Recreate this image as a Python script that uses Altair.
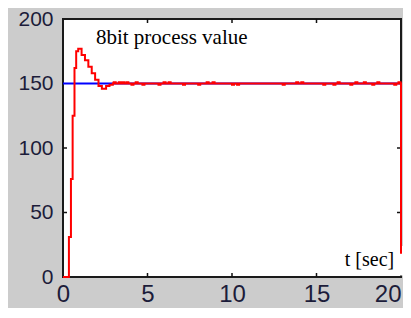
import altair as alt
import pandas as pd

# axis tick labels
x_ticks = [0, 5, 10, 15, 20]
y_ticks = [0, 50, 100, 150, 200]
inner_x = [5, 10, 15]
inner_y = [50, 100]

# red process value: transient (step samples)
trans_t = [0, 0.35, 0.47, 0.57, 0.68, 0.78, 0.9, 1.1, 1.3, 1.5, 1.7, 1.9, 2.1, 2.3, 2.55, 2.75, 2.95]
trans_v = [0, 31, 76, 125, 162, 175, 177, 172, 168, 163, 158, 153, 148, 146, 148, 149, 150]
# small 1-LSB deviations in steady state
blip_t = [3.0, 3.3, 3.5, 3.75, 4.05, 4.3, 4.7, 5.65, 5.95, 6.25, 7.1, 8.0, 8.5, 8.85, 10.0, 10.3,
          13.0, 13.8, 14.1, 15.4, 16.0, 16.25, 17.0, 17.3, 17.8, 18.3, 18.6, 19.6, 19.85]
blip_v = [151, 151, 151, 151, 149, 151, 149, 149, 151, 151, 149, 149, 151, 151, 149, 149,
          149, 151, 151, 149, 149, 151, 149, 151, 151, 149, 151, 149, 151]
end_t = [19.97, 20]
end_v = [150, 18]

# blue setpoint
setpoint_t = [0, 20]
setpoint_v = [150, 150]

rows = list(zip(trans_t, trans_v))
for t, v in zip(blip_t, blip_v):
    rows += [(t, v), (round(t + 0.12, 2), 150)]
rows += list(zip(end_t, end_v))
red = pd.DataFrame(rows, columns=["t", "v"])
blue = pd.DataFrame({"t": setpoint_t, "v": setpoint_v})

W, H = 338, 258
label_color = "#1c1c3a"

xs = alt.Scale(domain=[0, 20], nice=False, zero=False)
ys = alt.Scale(domain=[0, 200], nice=False)

x_axis = alt.Axis(values=x_ticks, ticks=False, grid=False, domain=False, title=None,
                  labelFontSize=24, labelPadding=5, labelFont="Liberation Sans",
                  labelColor=label_color, labelFlush=False, labelOverlap=False, labelBound=False,
                  labelAlign=alt.ExprRef(expr="datum.value >= 20 ? 'right' : 'center'"))
y_axis = alt.Axis(values=y_ticks, ticks=False, grid=False, domain=False, title=None,
                  labelFontSize=21, labelPadding=10, labelFont="Liberation Sans",
                  labelColor=label_color, labelFlush=False, labelOverlap=False, labelBound=False)

X = alt.X("t:Q", scale=xs, axis=x_axis)
Y = alt.Y("v:Q", scale=ys, axis=y_axis)

blue_line = alt.Chart(blue).mark_line(color="#0000ff", strokeWidth=2, clip=False).encode(x=X, y=Y)
red_line = alt.Chart(red).mark_line(color="#ff0000", strokeWidth=2, interpolate="step-after",
                                    clip=False).encode(x=X, y=Y)

# inner tick marks (MATLAB style)
xt = pd.DataFrame({"t": inner_x})
yt = pd.DataFrame({"v": inner_y})
tick_bottom = alt.Chart(xt).mark_rule(color="#111111", strokeWidth=1.5).encode(
    x=alt.X("t:Q", scale=xs), y=alt.value(H), y2=alt.value(H - 4))
tick_top = alt.Chart(xt).mark_rule(color="#111111", strokeWidth=1.5).encode(
    x=alt.X("t:Q", scale=xs), y=alt.value(0), y2=alt.value(4))
tick_left = alt.Chart(yt).mark_rule(color="#111111", strokeWidth=1.5).encode(
    y=alt.Y("v:Q", scale=ys), x=alt.value(0), x2=alt.value(4))
tick_right = alt.Chart(yt).mark_rule(color="#111111", strokeWidth=1.5).encode(
    y=alt.Y("v:Q", scale=ys), x=alt.value(W), x2=alt.value(W - 4))

title_df = pd.DataFrame({"t": [1.95], "v": [181], "label": ["8bit process value"]})
title = alt.Chart(title_df).mark_text(font="Liberation Serif", fontSize=21, align="left",
                                      baseline="alphabetic", color="#000000").encode(
    x=alt.X("t:Q", scale=xs), y=alt.Y("v:Q", scale=ys), text="label:N")

box_df = pd.DataFrame({"t": [16.4], "t2": [20.15], "v": [1.2], "v2": [24]})
box = alt.Chart(box_df).mark_rect(color="white", clip=False).encode(
    x=alt.X("t:Q", scale=xs), x2="t2:Q", y=alt.Y("v:Q", scale=ys), y2="v2:Q")

xl_df = pd.DataFrame({"t": [19.6], "v": [8.5], "label": ["t [sec]"]})
xlabel = alt.Chart(xl_df).mark_text(font="Liberation Serif", fontSize=20, align="right",
                                    baseline="alphabetic", color="#000000").encode(
    x=alt.X("t:Q", scale=xs), y=alt.Y("v:Q", scale=ys), text="label:N")

chart = alt.layer(
    tick_bottom, tick_top, tick_left, tick_right, blue_line, box, red_line, title, xlabel
).properties(
    width=W, height=H,
    autosize=alt.AutoSizeParams(type="none"),
    padding={"left": 55, "top": 11, "right": 2, "bottom": 31},
    background="#cccccc",
).configure_view(
    stroke="#1a1a1a", strokeWidth=2, fill="white"
)

chart.save("out.html", embed_options={"renderer": "svg", "actions": False})
